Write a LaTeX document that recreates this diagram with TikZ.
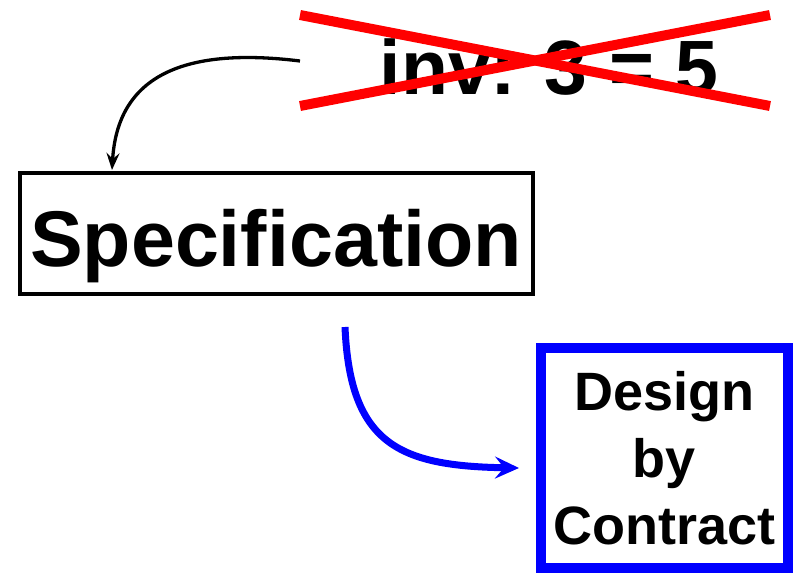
\documentclass[tikz,border=0pt]{standalone}
\usepackage{fontspec}
\setmainfont{Liberation Sans}
\usetikzlibrary{arrows.meta}
\tikzset{
  box/.style={draw, line width=4pt, inner sep=0pt, text height=65pt, text depth=0pt,
    font=\bfseries\fontsize{79}{90}\selectfont},
  dbcbox/.style={draw=blue, line width=10pt, inner sep=0pt, align=center,
    font=\bfseries\fontsize{54}{67}\selectfont},
  cross/.style={red, line width=10pt},
  flow/.style={line width=3.3pt, -{Stealth[length=17pt, width=13pt, inset=6pt]}},
  bigflow/.style={blue, line width=7pt, -{Stealth[length=24pt, width=22pt, inset=9pt]}}
}
\begin{document}
\begin{tikzpicture}[x=1pt, y=-1pt]
  \useasboundingbox (0,0) rectangle (803,576);

  % crossed-out invariant
  \node[font=\bfseries\fontsize{77}{80}\selectfont, inner sep=0pt] (inv) at (549,67) {inv: 3 = 5};
  \draw[cross] (300,15) -- (770,106);
  \draw[cross] (300,106) -- (770,15);

  % boxes
  \node[box, minimum width=513pt, minimum height=121pt] (spec) at (276,233.5) {Specification};
  \node[dbcbox, minimum width=247pt, minimum height=220pt] (dbc) at (664.5,458) {Design\\by\\Contract};

  % connector end points
  \coordinate (a0) at (300,61);
  \coordinate (a1) at (112,170);
  \coordinate (b0) at (345,327);
  \coordinate (b1) at (519,468);

  \draw[flow] (a0) .. controls (170,45) and (117,85) .. (a1);
  \draw[bigflow] (b0) .. controls (350,445) and (400,466) .. (b1);
\end{tikzpicture}
\end{document}
